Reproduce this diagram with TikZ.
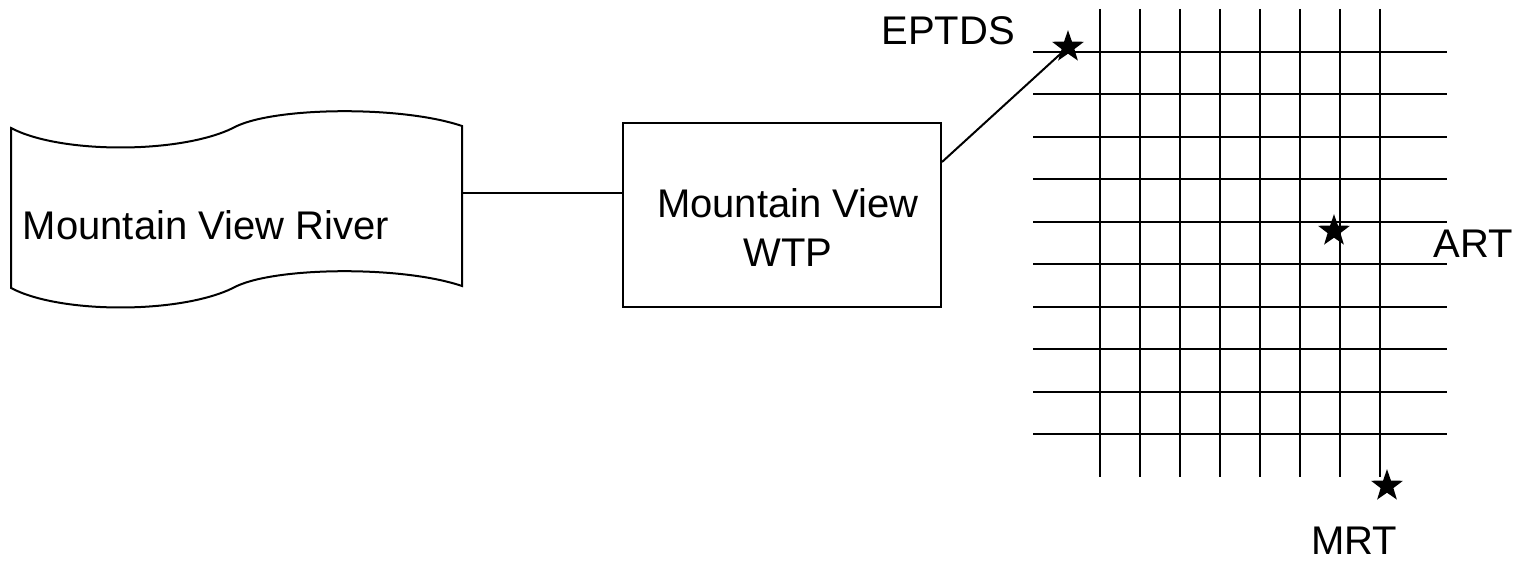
\documentclass[tikz,border=0pt]{standalone}
\usepackage{fontspec}
\setmainfont{Liberation Sans}
\usetikzlibrary{shapes.geometric}

\begin{document}
\begin{tikzpicture}[x=0.5pt,y=-0.5pt,line width=1pt]
    \tikzstyle{caption} = [inner sep=0pt,font=\fontsize{20}{24.5}\selectfont]
    \tikzstyle{plant} = [draw,inner sep=0pt,minimum width=159pt,minimum height=92pt]
    \tikzstyle{sample} = [star,star points=5,star point ratio=2.5,fill=black,inner sep=0pt,minimum size=16.8pt]
    \tikzstyle{main} = [line width=1pt]
    \useasboundingbox (0,0) rectangle (1522,565);

    % river
    \draw[main] (11,128) .. controls (60,154) and (180,154) .. (233,128)
       .. controls (270,107) and (400,105) .. (462,126) -- (462,286)
       .. controls (400,265) and (270,267) .. (233,288)
       .. controls (180,314) and (60,314) .. (11,288) -- cycle;
    \node[caption,anchor=base] (rivername) at (206,240) {Mountain View River};
    \coordinate (riverout) at (462,193);

    % treatment plant
    \node[plant] (wtp) at (782,215) {};
    \node[caption,align=center] (wtpname) at (788,228) {Mountain View\\WTP};
    \draw[main] (riverout) -- (riverout -| wtp.west);

    % distribution grid
    \draw[main] (1100,9) -- (1100,477);
    \draw[main] (1140,9) -- (1140,477);
    \draw[main] (1180,9) -- (1180,477);
    \draw[main] (1220,9) -- (1220,477);
    \draw[main] (1260,9) -- (1260,477);
    \draw[main] (1300,9) -- (1300,477);
    \draw[main] (1340,9) -- (1340,477);
    \draw[main] (1380,9) -- (1380,477);
    \draw[main] (1033,52) -- (1447,52);
    \draw[main] (1033,94.5) -- (1447,94.5);
    \draw[main] (1033,137) -- (1447,137);
    \draw[main] (1033,179.5) -- (1447,179.5);
    \draw[main] (1033,222) -- (1447,222);
    \draw[main] (1033,264.5) -- (1447,264.5);
    \draw[main] (1033,307) -- (1447,307);
    \draw[main] (1033,349.5) -- (1447,349.5);
    \draw[main] (1033,392) -- (1447,392);
    \draw[main] (1033,434.5) -- (1447,434.5);

    % sampling points
    \node[sample] (eptds) at (1068,47) {};
    \node[sample] (art) at (1334,231) {};
    \node[sample] (mrt) at (1387,486) {};
    \node[caption,anchor=base] (eptdsname) at (948,45) {EPTDS};
    \node[caption,anchor=base] (artname) at (1473,258) {ART};
    \node[caption,anchor=base] (mrtname) at (1354,555) {MRT};
    \draw[main] ([yshift=-20pt]wtp.north east) -- (eptds.center);
\end{tikzpicture}
\end{document}
